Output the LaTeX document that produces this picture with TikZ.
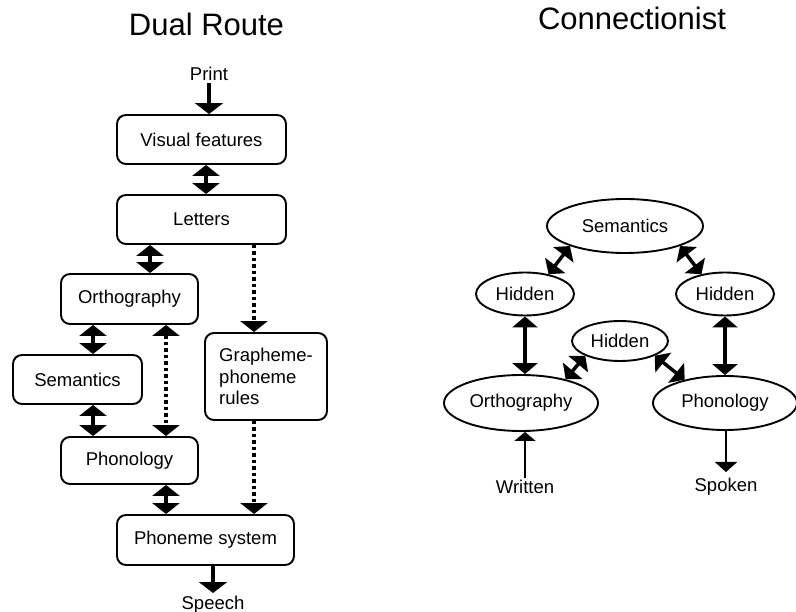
\documentclass[tikz,border=0pt]{standalone}
\usepackage{fontspec}
\setmainfont{Liberation Sans}
\usetikzlibrary{arrows.meta,shapes.geometric}
\begin{document}
\begin{tikzpicture}[x=1pt,y=-1pt,
  lbl/.style={font=\fontsize{18.5}{21.5}\selectfont},
  title/.style={font=\fontsize{31}{36}\selectfont, inner sep=0pt},
  box/.style={draw, line width=1.9pt, rounded corners=9pt, inner sep=0pt, font=\fontsize{18.5}{21.5}\selectfont},
  ell/.style={draw, ellipse, line width=1.9pt, inner sep=0pt, font=\fontsize{18.5}{21.5}\selectfont},
  dbl/.style={line width=4pt, {Triangle[width=27pt,length=11pt]}-{Triangle[width=27pt,length=11pt]}},
  dotdbl/.style={line width=3.5pt, dash pattern=on 3.5pt off 3pt, {Triangle[width=27pt,length=11pt]}-{Triangle[width=27pt,length=11pt]}},
  dotone/.style={line width=3.5pt, dash pattern=on 3.5pt off 3pt, -{Triangle[width=27pt,length=11pt]}},
  one/.style={line width=4pt, -{Triangle[width=28pt,length=11pt]}},
  dbltwo/.style={line width=3.5pt, {Triangle[width=25pt,length=11pt]}-{Triangle[width=25pt,length=11pt]}},
  thinone/.style={line width=1.5pt, -{Triangle[width=21pt,length=9pt]}},
  midone/.style={line width=2pt, -{Triangle[width=22pt,length=10pt]}}
]
\useasboundingbox (0,0) rectangle (796,612);

% titles
\node[title, anchor=base] (t1) at (206.5,36) {Dual Route};
\node[title, anchor=base] (t2) at (632,30) {Connectionist};

% ---------- Dual route ----------
\node[lbl, anchor=south, inner sep=2pt] (print) at (209,83) {Print};
\node[box, minimum width=169pt, minimum height=49pt] (vis) at (201.5,139.5) {Visual features};
\node[box, minimum width=169pt, minimum height=49pt] (let) at (201.5,219.5) {Letters};
\node[box, minimum width=137pt, minimum height=50pt] (orth) at (129.5,299) {Orthography};
\node[box, minimum width=129pt, minimum height=49pt] (sem) at (77.5,379.5) {Semantics};
\node[box, minimum width=137pt, minimum height=47pt] (phon) at (129.5,460.5) {Phonology};
\node[box, minimum width=177pt, minimum height=50pt] (phsys) at (205.5,540) {Phoneme system};
\node[box, minimum width=122pt, minimum height=87pt, align=left] (graph) at (266,376.5) {Grapheme-\\phoneme\\rules};
\node[lbl, anchor=north, inner sep=3pt] (speech) at (213,593) {Speech};

\draw[one] (print.south) -- (print.south |- vis.north);
\draw[dbl] ([xshift=4.5pt]vis.south) -- ([xshift=4.5pt]let.north);
\draw[dbl] ([xshift=20.5pt]orth.north |- let.south) -- ([xshift=20.5pt]orth.north);
\draw[dotone] ([xshift=52.5pt]let.south) -- ([xshift=52.5pt]let.south |- graph.north);
\draw[dbl] ([xshift=-36.5pt]orth.south) -- ([xshift=-36.5pt]orth.south |- sem.north);
\draw[dotdbl] ([xshift=36.5pt]orth.south) -- ([xshift=36.5pt]phon.north);
\draw[dbl] ([xshift=15.5pt]sem.south) -- ([xshift=15.5pt]sem.south |- phon.north);
\draw[dbl] ([xshift=36.5pt]phon.south) -- ([xshift=36.5pt]phon.south |- phsys.north);
\draw[dotone] ([xshift=-12pt]graph.south) -- ([xshift=-12pt]graph.south |- phsys.north);
\draw[one] (speech.north |- phsys.south) -- (speech.north);

% ---------- Connectionist ----------
\node[ell, minimum width=156pt, minimum height=54pt] (csem) at (625,226) {Semantics};
\node[ell, minimum width=98pt, minimum height=43pt] (hidl) at (525,294) {Hidden};
\node[ell, minimum width=98pt, minimum height=43pt] (hidr) at (725,294) {Hidden};
\node[ell, minimum width=96pt, minimum height=40pt] (hidm) at (620,341) {Hidden};
\node[ell, minimum width=154pt, minimum height=56pt] (cortho) at (521,403) {Orthography};
\node[ell, minimum width=144pt, minimum height=54pt] (cphon) at (725,403) {Phonology};
\node[lbl, anchor=north, inner sep=2pt] (written) at (525,478) {Written};
\node[lbl, anchor=north, inner xsep=2pt, inner ysep=6pt] (spoken) at (726,472) {Spoken};

\draw[dbltwo] (csem.200) -- (hidl.40);
\draw[dbltwo] (csem.340) -- (hidr.140);
\draw[dbltwo] (hidm.203) -- (cortho.28);
\draw[dbltwo] (hidm.337) -- (cphon.150);
\draw[dbltwo] (hidl.south) -- (hidl.south |- cortho.north);
\draw[dbltwo] (hidr.south) -- (hidr.south |- cphon.north);
\draw[thinone] (written.north) -- (written.north |- cortho.south);
\draw[midone] (spoken.north |- cphon.south) -- (spoken.north);
\end{tikzpicture}
\end{document}
